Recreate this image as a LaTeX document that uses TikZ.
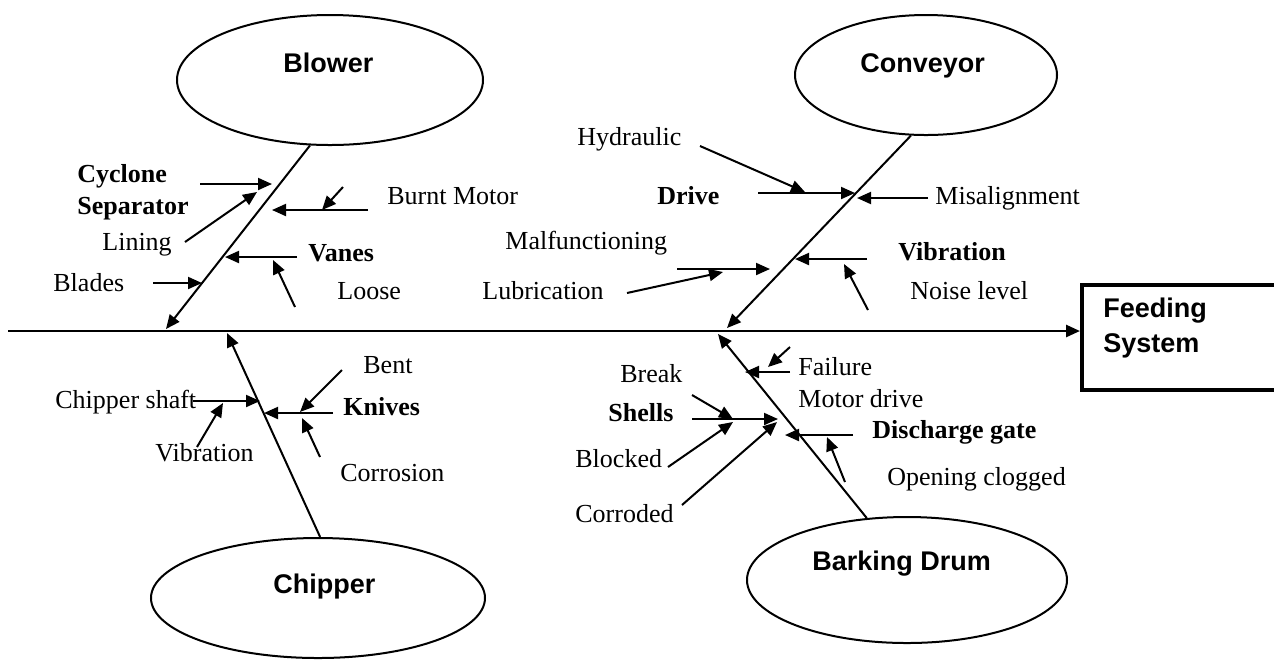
\documentclass[tikz,border=0pt]{standalone}
\usepackage{fontspec}
\setmainfont{Liberation Serif}
\newfontfamily\headfont{Liberation Sans}
\usetikzlibrary{arrows.meta,shapes.geometric}
\begin{document}
\begin{tikzpicture}[x=0.5pt,y=-0.5pt,
  bone/.style={line width=1pt,-{Triangle[length=7pt,width=6pt]}},
  cause/.style={line width=1pt,-{Triangle[length=7pt,width=6pt]}},
  spine/.style={line width=1.3pt,-{Triangle[length=7pt,width=6pt]}},
  ell/.style={ellipse,draw,line width=1pt,inner sep=0pt},
  lbl/.style={anchor=base west,inner sep=0pt,font=\fontsize{13}{15}\selectfont},
  blbl/.style={lbl,font=\fontsize{13}{15}\selectfont\bfseries},
  head/.style={anchor=base west,inner sep=0pt,font=\headfont\bfseries\fontsize{13.5}{16}\selectfont},
  outbox/.style={draw,line width=2pt,inner sep=0pt,anchor=north west,minimum width=105pt,minimum height=52.5pt}
]
\useasboundingbox[fill=white] (0,0) rectangle (1274,661);

% category ellipses
\node[ell,minimum width=153pt,minimum height=65pt] (blower) at (330,80) {};
\node[ell,minimum width=131pt,minimum height=60pt] (conveyor) at (926,75) {};
\node[ell,minimum width=167pt,minimum height=60pt] (chipper) at (318,598) {};
\node[ell,minimum width=160pt,minimum height=63pt] (drum) at (907,580) {};
\node[head] (tblower) at (283,72) {Blower};
\node[head] (tconveyor) at (860,72) {Conveyor};
\node[head] (tchipper) at (273,593) {Chipper};
\node[head] (tdrum) at (812,570) {Barking Drum};

% effect box and spine
\node[outbox] (feed) at (1080,283) {};
\node[head] (tfeed1) at (1103,317) {Feeding};
\node[head] (tfeed2) at (1103,352) {System};
\coordinate (sp0) at (8,331);
\draw[spine] (sp0) -- (feed.west |- sp0);

% bone ends on the spine
\coordinate (jB) at (166,329);
\coordinate (jC) at (727,328);
\coordinate (jH) at (227,333);
\coordinate (jD) at (718,334);
\draw[bone] (blower.253.7) -- (jB);
\draw[bone] (conveyor.256) -- (jC);
\draw[bone] (chipper.88) -- (jH);
\draw[bone] (drum.123.7) -- (jD);

% Blower causes
\node[blbl] (cyc) at (77,182) {Cyclone};
\node[blbl] (sep) at (77,214) {Separator};
\node[lbl] (lin) at (102,250) {Lining};
\node[lbl] (bur) at (387,204) {Burnt Motor};
\node[blbl] (van) at (308,261) {Vanes};
\node[lbl] (loo) at (337,299) {Loose};
\node[lbl] (bla) at (53,291) {Blades};
\coordinate (a1s) at (200,184); \coordinate (a1e) at (272,184);
\coordinate (a2s) at (185,242); \coordinate (a2e) at (257,192);
\coordinate (a3s) at (368,210); \coordinate (a3e) at (272,210);
\coordinate (a4s) at (343,187); \coordinate (a4e) at (322,210);
\coordinate (a5s) at (297,257); \coordinate (a5e) at (225,257);
\coordinate (a6s) at (295,307); \coordinate (a6e) at (273,260);
\coordinate (a7s) at (153,283); \coordinate (a7e) at (202,283);
\foreach \i in {1,...,7} \draw[cause] (a\i s) -- (a\i e);

% Conveyor causes
\node[lbl] (hyd) at (577,145) {Hydraulic};
\node[blbl] (dri) at (657,204) {Drive};
\node[lbl] (mis) at (935,204) {Misalignment};
\node[lbl] (mal) at (505,249) {Malfunctioning};
\node[lbl] (lub) at (482,299) {Lubrication};
\node[blbl] (cvib) at (898,260) {Vibration};
\node[lbl] (noi) at (910,299) {Noise level};
\coordinate (c1s) at (700,146); \coordinate (c1e) at (805,192);
\coordinate (c2s) at (758,193); \coordinate (c2e) at (855,193);
\coordinate (c3s) at (928,198); \coordinate (c3e) at (857,198);
\coordinate (c4s) at (677,269); \coordinate (c4e) at (770,269);
\coordinate (c5s) at (627,293); \coordinate (c5e) at (723,272);
\coordinate (c6s) at (867,259); \coordinate (c6e) at (795,259);
\coordinate (c7s) at (868,310); \coordinate (c7e) at (844,264);
\foreach \i in {1,...,7} \draw[cause] (c\i s) -- (c\i e);

% Chipper causes
\node[lbl] (sha) at (55,408) {Chipper shaft};
\node[lbl] (hvib) at (155,461) {Vibration};
\node[lbl] (ben) at (363,373) {Bent};
\node[blbl] (kni) at (343,415) {Knives};
\node[lbl] (cor) at (340,481) {Corrosion};
\coordinate (h1s) at (193,401); \coordinate (h1e) at (260,401);
\coordinate (h2s) at (197,447); \coordinate (h2e) at (223,403);
\coordinate (h3s) at (333,413); \coordinate (h3e) at (264,413);
\coordinate (h4s) at (342,370); \coordinate (h4e) at (300,412);
\coordinate (h5s) at (320,457); \coordinate (h5e) at (302,418);
\foreach \i in {1,...,5} \draw[cause] (h\i s) -- (h\i e);

% Barking drum causes
\node[lbl] (bre) at (620,382) {Break};
\node[blbl] (she) at (608,421) {Shells};
\node[lbl] (blo) at (575,467) {Blocked};
\node[lbl] (cod) at (575,522) {Corroded};
\node[lbl] (fai) at (798,375) {Failure};
\node[lbl] (mot) at (798,407) {Motor drive};
\node[blbl] (dis) at (872,438) {Discharge gate};
\node[lbl] (ope) at (887,485) {Opening clogged};
\coordinate (d1s) at (692,395); \coordinate (d1e) at (733,419);
\coordinate (d2s) at (692,419); \coordinate (d2e) at (778,419);
\coordinate (d3s) at (668,467); \coordinate (d3e) at (733,422);
\coordinate (d4s) at (682,505); \coordinate (d4e) at (777,422);
\coordinate (d5s) at (790,372); \coordinate (d5e) at (745,372);
\coordinate (d6s) at (790,347); \coordinate (d6e) at (768,367);
\coordinate (d7s) at (853,435); \coordinate (d7e) at (785,435);
\coordinate (d8s) at (845,482); \coordinate (d8e) at (827,437);
\foreach \i in {1,...,8} \draw[cause] (d\i s) -- (d\i e);
\end{tikzpicture}
\end{document}
